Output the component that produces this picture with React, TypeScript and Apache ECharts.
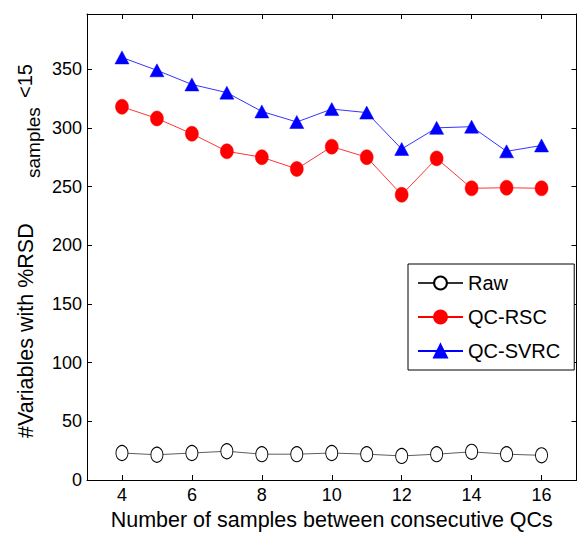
import React, { useEffect, useRef } from "react";
import * as echarts from "echarts";

const xCategories = ["3", "4", "5", "6", "7", "8", "9", "10", "11", "12", "13", "14", "15", "16", "17"];
const xValues = [4, 5, 6, 7, 8, 9, 10, 11, 12, 13, 14, 15, 16];
const rawValues = [23, 21.5, 23, 24.5, 22, 22, 23, 22, 20.5, 22, 24, 22, 21];
const rscValues = [318, 308, 295, 280, 275, 265, 284, 275, 243, 274, 248.5, 249, 248.5];
const svrcValues = [360, 349, 337, 330, 314, 305, 316, 313, 282, 300, 301, 280, 285];
const yTickValues = [0, 50, 100, 150, 200, 250, 300, 350];

const FONT = '"Liberation Sans", Arial, Helvetica, sans-serif';

export default function App() {
  const ref = useRef<HTMLDivElement>(null);
  useEffect(() => {
    if (!ref.current) return;
    const chart = echarts.init(ref.current, undefined, { renderer: "svg" });
    const evenOnly = (_i: number, v: string) => Number(v) % 2 === 0;
    const axisLineStyle = { color: "#000", width: 1 };
    const pair = (vals: number[]) => xValues.map((x, i) => [String(x), vals[i]]);
    chart.setOption({
      animation: false,
      backgroundColor: "#fff",
      grid: { left: 87, top: 14, right: 0.5, bottom: 53, containLabel: false, outerBoundsMode: "none" },
      legend: {
        orient: "vertical",
        left: 408,
        top: 264,
        padding: [8, 14, 8, 9],
        itemWidth: 45,
        itemHeight: 16,
        itemGap: 12,
        borderColor: "#000",
        borderWidth: 1,
        borderRadius: 0,
        backgroundColor: "#fff",
        selectedMode: false,
        textStyle: { fontSize: 20, fontFamily: FONT, color: "#000", lineHeight: 22 },
        data: ["Raw", "QC-RSC", "QC-SVRC"],
      },
      xAxis: [
        {
          type: "category",
          data: xCategories,
          boundaryGap: false,
          position: "bottom",
          axisLine: { show: true, onZero: false, lineStyle: axisLineStyle },
          axisTick: { show: true, inside: true, length: 5, interval: evenOnly, lineStyle: axisLineStyle },
          axisLabel: { show: true, interval: evenOnly, color: "#000", fontSize: 18, fontFamily: FONT, margin: 6 },
          splitLine: { show: false },
          name: "Number of samples between consecutive QCs",
          nameLocation: "middle",
          nameGap: 29,
          nameTextStyle: { fontSize: 21.5, fontFamily: FONT, color: "#000" },
        },
        {
          type: "category",
          data: xCategories,
          boundaryGap: false,
          position: "top",
          axisLine: { show: true, onZero: false, lineStyle: axisLineStyle },
          axisTick: { show: true, inside: true, length: 5, interval: evenOnly, lineStyle: axisLineStyle },
          axisLabel: { show: false },
          splitLine: { show: false },
        },
      ],
      yAxis: [
        {
          type: "value",
          min: 0,
          max: 397,
          interval: 50,
          position: "left",
          axisLine: { show: true, onZero: false, lineStyle: axisLineStyle },
          axisTick: { show: true, inside: true, length: 5, lineStyle: axisLineStyle },
          axisLabel: {
            color: "#000",
            fontSize: 18,
            fontFamily: FONT,
            margin: 5,
            formatter: (v: number) => (yTickValues.includes(v) ? String(v) : ""),
          },
          splitLine: { show: false },
        },
        {
          type: "value",
          min: 0,
          max: 397,
          interval: 50,
          position: "right",
          axisLine: { show: true, onZero: false, lineStyle: axisLineStyle },
          axisTick: { show: true, inside: true, length: 5, lineStyle: axisLineStyle },
          axisLabel: { show: false },
          splitLine: { show: false },
        },
      ],
      graphic: [
        {
          type: "text",
          x: 25.5,
          y: 438,
          rotation: Math.PI / 2,
          style: {
            text: "#Variables with %RSD",
            fontSize: 21.5,
            fontFamily: FONT,
            fill: "#000",
            align: "left",
            verticalAlign: "middle",
            textAlign: "left",
            textVerticalAlign: "middle",
          },
        },
        {
          type: "text",
          x: 33,
          y: 178,
          rotation: Math.PI / 2,
          style: {
            text: "samples",
            fontSize: 19,
            fontFamily: FONT,
            fill: "#000",
            align: "left",
            verticalAlign: "middle",
            textAlign: "left",
            textVerticalAlign: "middle",
          },
        },
        {
          type: "text",
          x: 25,
          y: 98,
          rotation: Math.PI / 2,
          style: {
            text: "<15",
            fontSize: 20,
            fontFamily: FONT,
            fill: "#000",
            align: "left",
            verticalAlign: "middle",
            textAlign: "left",
            textVerticalAlign: "middle",
          },
        },
      ],
      series: [
        {
          name: "Raw",
          type: "line",
          data: pair(rawValues),
          symbol: "circle",
          symbolSize: [12, 15],
          showAllSymbol: true,
          lineStyle: { color: "#333", width: 0.8 },
          itemStyle: { color: "#fff", borderColor: "#000", borderWidth: 1 },
          z: 3,
        },
        {
          name: "QC-RSC",
          type: "line",
          data: pair(rscValues),
          symbol: "circle",
          symbolSize: [13, 15],
          showAllSymbol: true,
          lineStyle: { color: "#ff0000", width: 0.8 },
          itemStyle: { color: "#ff0000", borderColor: "#ff0000", borderWidth: 0.5 },
          z: 3,
        },
        {
          name: "QC-SVRC",
          type: "line",
          data: pair(svrcValues),
          symbol: "triangle",
          symbolSize: [14, 13],
          showAllSymbol: true,
          lineStyle: { color: "#0000ff", width: 0.8 },
          itemStyle: { color: "#0000ff", borderColor: "#0000ff", borderWidth: 0.5 },
          z: 3,
        },
      ],
    });
    return () => chart.dispose();
  }, []);
  return (
    <div
      ref={ref}
      style={{ position: "fixed", left: 0, top: 0, width: 577, height: 533, background: "#fff" }}
    />
  );
}
